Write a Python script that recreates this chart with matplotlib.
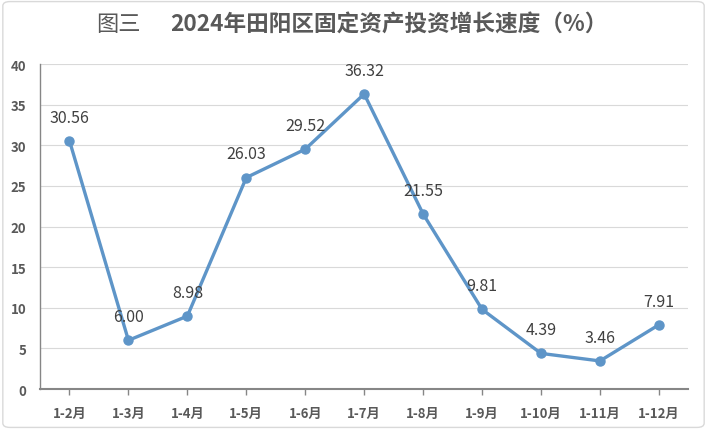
import matplotlib
matplotlib.use("Agg")
import matplotlib.pyplot as plt
from matplotlib.patches import FancyBboxPatch

plt.rcParams['font.family'] = ['Noto Sans CJK SC', 'DejaVu Sans']

categories = ["1-2月", "1-3月", "1-4月", "1-5月", "1-6月", "1-7月",
              "1-8月", "1-9月", "1-10月", "1-11月", "1-12月"]
values = [30.56, 6.00, 8.98, 26.03, 29.52, 36.32, 21.55, 9.81, 4.39, 3.46, 7.91]
yticks = [0, 5, 10, 15, 20, 25, 30, 35, 40]

line_color = "#5E95C8"
text_gray = "#595959"

fig = plt.figure(figsize=(7.07, 4.31), dpi=100)
fig.patch.set_facecolor("white")

border = FancyBboxPatch((0.004, 0.006), 0.992, 0.988,
                        boxstyle="round,pad=0,rounding_size=0.01",
                        transform=fig.transFigure, facecolor="none",
                        edgecolor="#D9D9D9", linewidth=1.0)
fig.patches.append(border)

ax = fig.add_axes([0.0566, 0.095, 0.917, 0.754])
x = list(range(len(categories)))
ax.plot(x, values, color=line_color, linewidth=2.4, marker="o",
        markersize=6.5, markerfacecolor=line_color, markeredgecolor=line_color,
        zorder=3)

for xi, v in zip(x, values):
    ax.annotate(f"{v:.2f}", (xi, v), textcoords="offset points", xytext=(0, 17),
                ha="center", va="center", fontsize=11.5, color="#404040")

ax.set_xlim(-0.5, len(categories) - 0.5)
ax.set_ylim(0, 40)
ax.set_yticks(yticks)
ax.set_xticks(x)
ax.set_xticklabels(categories)
ax.grid(axis="y", color="#D9D9D9", linewidth=0.8)
ax.set_axisbelow(True)

for s in ["top", "right"]:
    ax.spines[s].set_visible(False)
ax.spines["left"].set_color("#868686")
ax.spines["left"].set_linewidth(1.0)
ax.spines["bottom"].set_color("#868686")
ax.spines["bottom"].set_linewidth(1.5)

ax.tick_params(axis="y", length=0, pad=10, labelsize=9.5, labelcolor=text_gray)
ax.tick_params(axis="x", length=4, width=1.0, color="#868686", direction="out",
               pad=8, labelsize=9.5, labelcolor=text_gray)
for lab in ax.get_xticklabels() + ax.get_yticklabels():
    lab.set_fontweight("bold")

fig.text(0.168, 0.942, "图三", ha="center", va="center", fontsize=16,
         color=text_gray, fontweight="normal")
fig.text(0.241, 0.942, "2024年田阳区固定资产投资增长速度（%）", ha="left",
         va="center", fontsize=16.3, color=text_gray, fontweight="bold")

fig.savefig("out.png", dpi=100, facecolor="white")
